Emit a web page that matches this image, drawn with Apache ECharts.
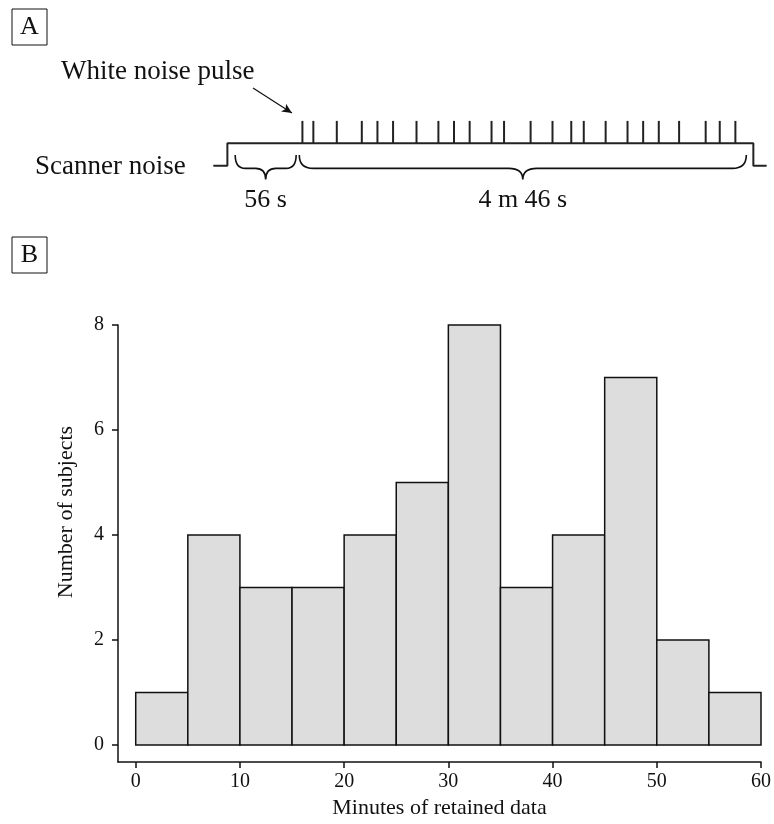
<!DOCTYPE html>
<html>
<head>
<meta charset="utf-8">
<script src="https://cdn.jsdelivr.net/npm/echarts@6/dist/echarts.min.js"></script>
<style>
  html, body { margin: 0; padding: 0; background: #fff; }
  #main { width: 774px; height: 824px; }
</style>
</head>
<body>
<div id="main"></div>
<script>
var FONT = '"Liberation Serif", "Times New Roman", serif';
var INK = '#111';

// panel A: white noise pulses, seconds from start of the pulse block
var pulseTimes = [2, 9, 24, 40, 50, 60, 75, 89, 99, 109, 123, 131, 148, 162, 174, 182, 196, 210, 220, 230, 243, 260, 269, 279];
// scanner noise on/off trace (time, level)
var scannerTrace = [[-55, 0], [-46, 0], [-46, 1], [290.5, 1], [290.5, 0], [299, 0]];
// braces: start, end, label
var braceStarts = [-41, 0];
var braceEnds = [-2, 286];
var braceLabels = ['56 s', '4 m 46 s'];

// panel B: histogram of retained minutes
var binStarts = [0, 5, 10, 15, 20, 25, 30, 35, 40, 45, 50, 55];
var binWidth = 5;
var counts = [1, 4, 3, 3, 4, 5, 8, 3, 4, 7, 2, 1];
var xTicks = [0, 10, 20, 30, 40, 50, 60];
var yTicks = [0, 2, 4, 6, 8];

var chart = echarts.init(document.getElementById('main'), null, { renderer: 'canvas' });

function renderPulse(params, api) {
  var t = api.value(0);
  var a = api.coord([t, 1]);
  var b = api.coord([t, 2]);
  return {
    type: 'line',
    shape: { x1: a[0], y1: a[1], x2: b[0], y2: b[1] },
    style: { stroke: '#222', lineWidth: 2 }
  };
}

function renderBrace(params, api) {
  var s = api.value(0), e = api.value(1);
  var p1 = api.coord([s, 0.48]);
  var p2 = api.coord([e, 0.48]);
  var mid = api.coord([0, -0.12])[1];
  var tip = api.coord([0, -0.62])[1];
  var lab = api.coord([(s + e) / 2, -1.53]);
  var x1 = p1[0], x2 = p2[0], yT = p1[1], xc = (x1 + x2) / 2;
  var r = Math.min(14, (x2 - x1) / 6);
  var d = 'M' + x1 + ' ' + yT +
    ' Q' + x1 + ' ' + mid + ' ' + (x1 + r) + ' ' + mid +
    ' L' + (xc - r) + ' ' + mid +
    ' Q' + xc + ' ' + mid + ' ' + xc + ' ' + tip +
    ' Q' + xc + ' ' + mid + ' ' + (xc + r) + ' ' + mid +
    ' L' + (x2 - r) + ' ' + mid +
    ' Q' + x2 + ' ' + mid + ' ' + x2 + ' ' + yT;
  return {
    type: 'group',
    children: [
      { type: 'path', shape: { pathData: d }, style: { fill: 'none', stroke: INK, lineWidth: 1.6 } },
      { type: 'text', x: lab[0], y: lab[1],
        style: { text: braceLabels[params.dataIndex], font: '26px ' + FONT, fill: INK, align: 'center', verticalAlign: 'middle' } }
    ]
  };
}

function renderBar(params, api) {
  var p0 = api.coord([api.value(0), api.value(2)]);
  var p1 = api.coord([api.value(1), 0]);
  return {
    type: 'rect',
    shape: { x: p0[0], y: p0[1], width: p1[0] - p0[0], height: p1[1] - p0[1] },
    style: { fill: '#dddddd', stroke: INK, lineWidth: 1.5 }
  };
}

var option = {
  backgroundColor: '#fff',
  animation: false,
  textStyle: { fontFamily: FONT },
  grid: [
    { left: 205.5, top: 76.1, width: 562.7, height: 134.4 },
    { left: 118, top: 325, width: 644, height: 437 }
  ],
  xAxis: [
    { type: 'value', gridIndex: 0, min: -60, max: 300, show: false },
    {
      type: 'value', gridIndex: 1, min: -1.7, max: 60,
      splitLine: { show: false },
      axisLine: { onZero: false, lineStyle: { color: INK, width: 1.5 } },
      axisTick: { customValues: xTicks, length: 6, lineStyle: { color: INK, width: 1.5 } },
      axisLabel: { customValues: xTicks, margin: 10, fontSize: 20, fontFamily: FONT, color: INK },
      name: 'Minutes of retained data', nameLocation: 'middle', nameGap: 32,
      nameTextStyle: { fontSize: 22, fontFamily: FONT, color: INK }
    }
  ],
  yAxis: [
    { type: 'value', gridIndex: 0, min: -2, max: 4, show: false },
    {
      type: 'value', gridIndex: 1, min: -0.324, max: 8,
      splitLine: { show: false },
      axisLine: { show: true, onZero: false, lineStyle: { color: INK, width: 1.5 } },
      axisTick: { show: true, customValues: yTicks, length: 6, lineStyle: { color: INK, width: 1.5 } },
      axisLabel: { customValues: yTicks, margin: 14, fontSize: 20, fontFamily: FONT, color: INK }
    }
  ],
  series: [
    {
      type: 'line', xAxisIndex: 0, yAxisIndex: 0,
      data: scannerTrace, symbol: 'none', silent: true,
      lineStyle: { color: '#222', width: 2 },
      markLine: {
        silent: true, symbol: ['none', 'arrow'], symbolSize: [7, 10],
        label: { show: false },
        lineStyle: { color: INK, width: 1.2, type: 'solid' },
        data: [[{ coord: [-29.6, 3.47] }, { coord: [-4.7, 2.35] }]]
      }
    },
    {
      type: 'custom', xAxisIndex: 0, yAxisIndex: 0, silent: true,
      renderItem: renderPulse,
      data: pulseTimes.map(function (t) { return [t]; }),
      encode: { x: 0 }
    },
    {
      type: 'custom', xAxisIndex: 0, yAxisIndex: 0, silent: true,
      renderItem: renderBrace,
      data: braceStarts.map(function (s, i) { return [s, braceEnds[i]]; }),
      encode: { x: [0, 1] }
    },
    {
      type: 'custom', xAxisIndex: 1, yAxisIndex: 1, silent: true,
      renderItem: renderBar,
      data: binStarts.map(function (s, i) { return [s, s + binWidth, counts[i]]; }),
      encode: { x: [0, 1], y: 2 }
    }
  ],
  graphic: [
    { type: 'rect', shape: { x: 12, y: 9, width: 35, height: 36 }, style: { fill: '#fff', stroke: INK, lineWidth: 1 } },
    { type: 'text', x: 29.5, y: 27.5, style: { text: 'A', font: '26px ' + FONT, fill: INK, align: 'center', verticalAlign: 'middle' } },
    { type: 'rect', shape: { x: 12, y: 237, width: 35, height: 36 }, style: { fill: '#fff', stroke: INK, lineWidth: 1 } },
    { type: 'text', x: 29.5, y: 255.5, style: { text: 'B', font: '26px ' + FONT, fill: INK, align: 'center', verticalAlign: 'middle' } },
    { type: 'text', x: 61, y: 72, style: { text: 'White noise pulse', font: '27px ' + FONT, fill: INK, align: 'left', verticalAlign: 'middle' } },
    { type: 'text', x: 35, y: 167, style: { text: 'Scanner noise', font: '27px ' + FONT, fill: INK, align: 'left', verticalAlign: 'middle' } },
    { type: 'text', x: 66, y: 512, rotation: Math.PI / 2, style: { text: 'Number of subjects', font: '22px ' + FONT, fill: INK, align: 'center', verticalAlign: 'middle' } }
  ]
};

chart.setOption(option);
</script>
</body>
</html>
